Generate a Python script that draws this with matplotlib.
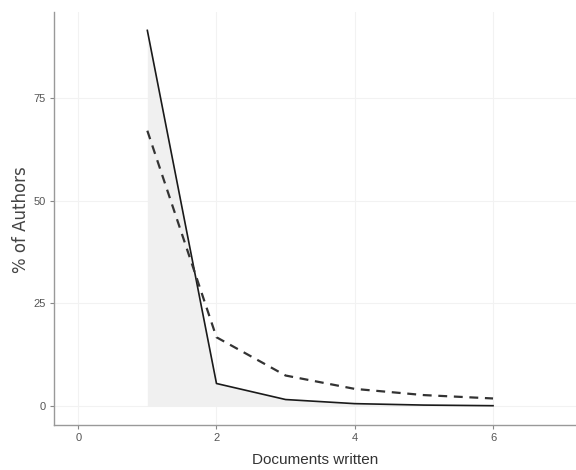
import matplotlib
matplotlib.use("Agg")
import matplotlib.pyplot as plt

docs = [1, 2, 3, 4, 5, 6]
observed = [91.4, 5.5, 1.6, 0.6, 0.25, 0.1]
theoretical = [67.0, 16.75, 7.44, 4.19, 2.68, 1.86]
xticks = [0, 2, 4, 6]
yticks = [0, 25, 50, 75]

narrow = ["Liberation Sans", "DejaVu Sans"]

fig = plt.figure(figsize=(5.76, 4.70), dpi=100)
ax = fig.add_axes([0.09375, 0.0957, 0.90625, 0.879])

ax.fill_between(docs, observed, 0, color="#f0f0f0", linewidth=0, zorder=1)
ax.plot(docs, observed, color="#1a1a1a", linewidth=1.2, zorder=3)
ax.plot(docs, theoretical, color="#333333", linewidth=1.6, linestyle=(0, (4, 3)), zorder=3)

ax.set_xlim(-0.35, 7.2)
ax.set_ylim(-4.6, 95.9)
ax.set_xticks(xticks)
ax.set_yticks(yticks)
ax.set_xticklabels([str(t) for t in xticks], family=narrow, fontsize=8, color="#555555")
ax.set_yticklabels([str(t) for t in yticks], family=narrow, fontsize=8, color="#555555")
ax.tick_params(length=3, width=0.8, color="#888888", pad=3)

ax.grid(True, color="#f2f2f2", linewidth=0.8, zorder=0)
ax.set_axisbelow(True)
for s in ["top", "right"]:
    ax.spines[s].set_visible(False)
for s in ["left", "bottom"]:
    ax.spines[s].set_color("#999999")
    ax.spines[s].set_linewidth(1.0)

fig.text(315 / 576, 1 - 460 / 470, "Documents written", family=narrow, fontsize=11,
         color="#333333", ha="center", va="center")
fig.text(21 / 576, 1 - 220 / 470, "% of Authors", family="DejaVu Sans", fontsize=12,
         color="#444444", ha="center", va="center", rotation=90)

fig.savefig("out.png", dpi=100)
